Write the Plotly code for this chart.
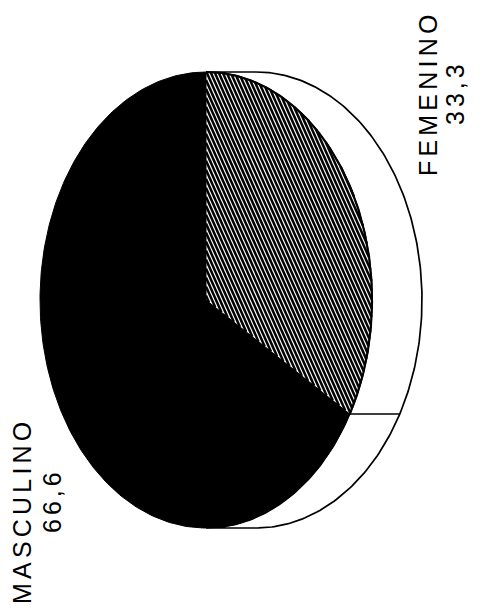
import numpy as np
import plotly.graph_objects as go

# Slice data (percent), listed clockwise from 12 o'clock
categories = ["FEMENINO", "MASCULINO"]
values = [33.3, 66.6]
value_labels = ["33,3", "66,6"]

# Projected pie geometry (pixel space of the page)
CX, CY = 206.0, 300.0      # centre of the top face
RX, RY = 166.0, 228.0      # semi-axes of the top face ellipse
DEPTH = 50.0               # extrusion of the pie's side wall along +x
START = -90.0              # first slice starts at the top


def ellipse(t_deg, shift=0.0):
    t = np.radians(t_deg)
    return CX + shift + RX * np.cos(t), CY + RY * np.sin(t)


total = float(sum(values))
edges = [START]
for v in values:
    edges.append(edges[-1] + 360.0 * v / total)

fig = go.Figure()

# Side wall: visible on the right half of the ellipse
ts = np.linspace(-90, 90, 200)
ox, oy = ellipse(ts, DEPTH)
ix, iy = ellipse(ts[::-1])
fig.add_trace(go.Scatter(
    x=np.concatenate([ox, ix, ox[:1]]), y=np.concatenate([oy, iy, oy[:1]]),
    mode="lines", fill="toself", fillcolor="white",
    line=dict(color="black", width=1.7), hoverinfo="skip", showlegend=False))

# Wall seams at slice boundaries that fall on the visible side
for a in edges[1:-1]:
    a_n = ((a + 180) % 360) - 180
    if -90 < a_n < 90:
        x0, y0 = ellipse(a_n)
        x1, y1 = ellipse(a_n, DEPTH)
        fig.add_trace(go.Scatter(x=[x0, x1], y=[y0, y1], mode="lines",
                                 line=dict(color="black", width=1.7),
                                 hoverinfo="skip", showlegend=False))


def sector(a0, a1, n=240):
    tt = np.linspace(a0, a1, n)
    ex, ey = ellipse(tt)
    px = np.concatenate([[CX], ex, [CX]])
    py = np.concatenate([[CY], ey, [CY]])
    return px, py


def hatch(px, py, spacing=4.0, angle=66.0):
    """Parallel hatch lines clipped to a convex polygon."""
    d = np.array([np.cos(np.radians(angle)), np.sin(np.radians(angle))])
    k = d[0] / d[1]
    cs = px - k * py
    xs, ys = [], []
    for c in np.arange(cs.min() + spacing / 2, cs.max(), spacing):
        hits = []
        for i in range(len(px) - 1):
            xa, ya, xb, yb = px[i], py[i], px[i + 1], py[i + 1]
            fa = xa - k * ya - c
            fb = xb - k * yb - c
            if fa == fb:
                continue
            if (fa <= 0 <= fb) or (fb <= 0 <= fa):
                s = fa / (fa - fb)
                hits.append(ya + s * (yb - ya))
        if len(hits) >= 2:
            y0, y1 = min(hits), max(hits)
            xs += [c + k * y0, c + k * y1, None]
            ys += [y0, y1, None]
    return xs, ys


for cat, a0, a1 in zip(categories, edges[:-1], edges[1:]):
    px, py = sector(a0, a1)
    if cat == "MASCULINO":
        fig.add_trace(go.Scatter(x=px, y=py, mode="lines", fill="toself",
                                 fillcolor="black", line=dict(color="black", width=1),
                                 hoverinfo="skip", showlegend=False))
    else:
        fig.add_trace(go.Scatter(x=px, y=py, mode="lines", fill="toself",
                                 fillcolor="white", line=dict(width=0),
                                 hoverinfo="skip", showlegend=False))
        hx, hy = hatch(px, py)
        fig.add_trace(go.Scatter(x=hx, y=hy, mode="lines",
                                 line=dict(color="black", width=2.5),
                                 hoverinfo="skip", showlegend=False))
        ax, ay = ellipse(np.linspace(a0, a1, 200))
        fig.add_trace(go.Scatter(x=ax, y=ay, mode="lines",
                                 line=dict(color="black", width=2.2),
                                 hoverinfo="skip", showlegend=False))

# Rotated labels: category name, then value beneath it
name_pos = {"FEMENINO": (428, 93), "MASCULINO": (22, 511)}
value_pos = {"FEMENINO": (455, 93), "MASCULINO": (52, 501)}
font = dict(family="Liberation Sans, Arial, sans-serif", size=25, color="black")
for cat, txt in zip(categories, value_labels):
    for (x, y), t, sp in ((name_pos[cat], cat, 4.2), (value_pos[cat], txt, 4)):
        fig.add_annotation(
            x=x, y=y, xref="x", yref="y", showarrow=False, textangle=-90,
            xanchor="center", yanchor="middle",
            text=f'<span style="letter-spacing:{sp}px">{t}</span>', font=font)

fig.update_layout(
    width=481, height=612, margin=dict(l=0, r=0, t=0, b=0),
    paper_bgcolor="white", plot_bgcolor="white", showlegend=False,
    xaxis=dict(range=[0, 481], visible=False, fixedrange=True),
    yaxis=dict(range=[612, 0], visible=False, fixedrange=True),
)

fig.write_html("out.html")
